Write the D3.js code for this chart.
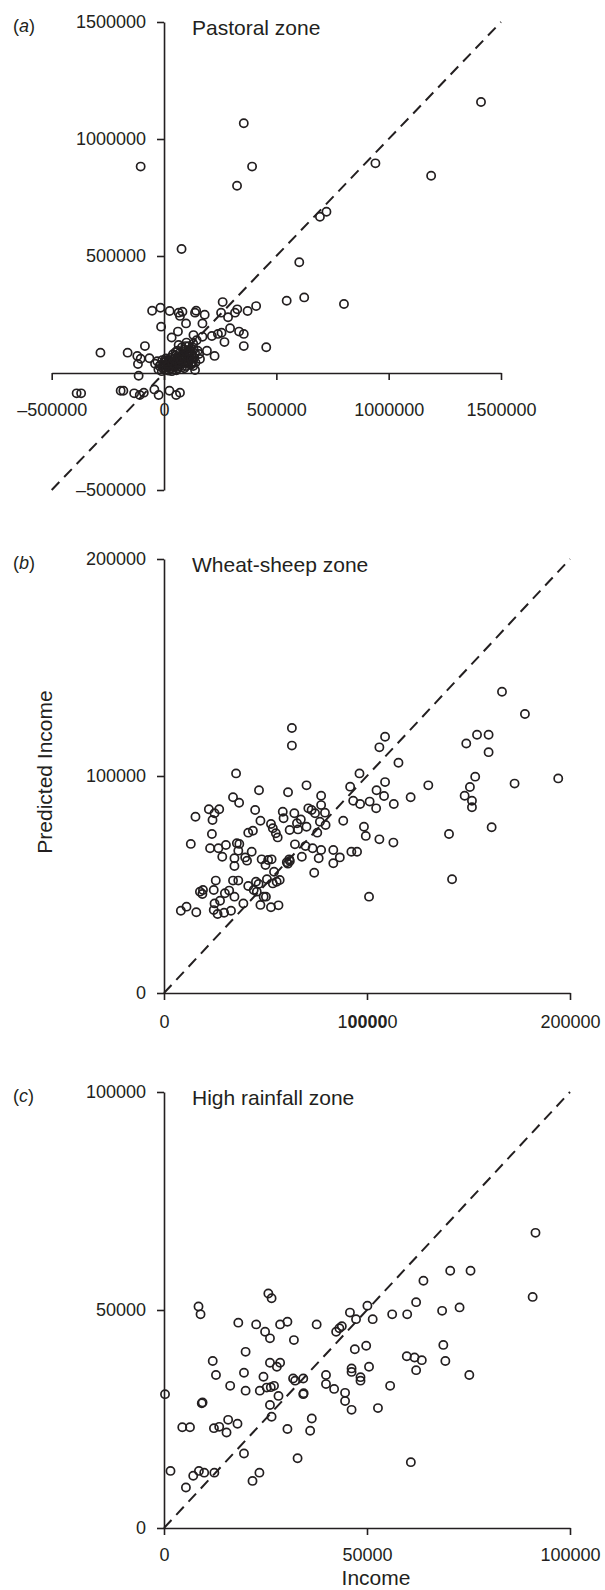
<!DOCTYPE html>
<html>
<head>
<meta charset="utf-8">
<script src="https://cdn.jsdelivr.net/npm/d3@7"></script>
<style>
    body { margin: 0; background: #fff; }
    svg { display: block; }
    text { font-family: "Liberation Sans", Arial, Helvetica, sans-serif; fill: #231f20; }
</style>
</head>
<body>
<div id="chart"></div>
<script>
const ink = "#231f20";

// (a) Pastoral zone: [income, predicted income]
const pastoralPoints = [
    [-104000, 882000], [355000, 1067000], [392000, 882000], [325000, 800000],
    [694000, 668000], [723000, 689000], [941000, 896000], [1189000, 843000],
    [1411000, 1158000], [78000, 530000], [602000, 473000], [546000, 309000],
    [624000, 323000], [801000, 295000], [455000, 110000], [410000, 286000],
    [372000, 265000], [326000, 272000], [316000, 258000], [285000, 238000],
    [261000, 303000], [254000, 258000], [294000, 191000], [334000, 177000],
    [355000, 167000], [355000, 115000], [269000, 132000], [256000, 172000],
    [240000, 167000], [213000, 158000], [225000, 73000], [181000, 249000],
    [171000, 212000], [171000, 155000], [143000, 266000], [138000, 258000],
    [98000, 212000], [71000, 244000], [65000, 258000], [82000, 262000],
    [25000, 265000], [-16000, 279000], [-53000, 266000], [-13000, 198000],
    [62000, 177000], [34000, 152000], [131000, 162000], [-85000, 115000],
    [-162000, 87000], [-283000, 87000], [-119000, 73000], [-104000, 61000],
    [-116000, 38000], [-65000, 63000], [-113000, -12000], [138000, 13000],
    [123000, 41000], [191000, 95000], [156000, 81000],
    [-389000, -87000], [-369000, -87000], [-193000, -76000], [-181000, -76000],
    [-133000, -87000], [-108000, -94000], [-90000, -84000], [-43000, -70000],
    [-24000, -94000], [24000, -76000], [54000, -94000], [71000, -84000],
    [-20000, 30000], [-5000, 20000], [5000, 35000], [15000, 25000],
    [25000, 40000], [35000, 30000], [45000, 45000], [55000, 35000],
    [65000, 50000], [75000, 40000], [85000, 60000], [95000, 45000],
    [105000, 70000], [115000, 55000], [125000, 80000], [135000, 65000],
    [10000, 55000], [30000, 65000], [50000, 75000], [70000, 85000],
    [90000, 100000], [110000, 115000], [130000, 125000], [100000, 130000],
    [80000, 110000], [60000, 95000], [40000, 80000], [20000, 45000],
    [0, 45000], [-30000, 50000], [40000, 15000], [60000, 20000],
    [80000, 25000], [100000, 30000], [120000, 35000], [140000, 45000],
    [20000, 10000], [-10000, 8000], [150000, 95000], [110000, 90000],
    [75000, 70000], [50000, 55000], [30000, 20000], [120000, 105000],
    [90000, 75000], [145000, 140000], [65000, 120000], [-40000, 40000],
    [160000, 60000], [130000, 30000],
    [-25000, 15000], [-15000, 35000], [0, 25000], [10000, 15000],
    [12000, 40000], [18000, 30000], [28000, 52000], [38000, 42000],
    [42000, 60000], [48000, 28000], [58000, 48000], [62000, 65000],
    [68000, 38000], [72000, 58000], [78000, 52000], [82000, 75000],
    [88000, 42000], [92000, 62000], [98000, 85000], [102000, 52000],
    [108000, 40000], [112000, 75000], [118000, 95000], [122000, 60000],
    [128000, 48000], [132000, 100000], [138000, 85000], [8000, 62000],
    [52000, 90000], [85000, 90000], [95000, 115000], [-8000, 55000],
    [35000, 8000], [55000, 12000], [70000, 28000], [90000, 20000]
];
const pastoralXTicks = [-500000, 0, 500000, 1000000, 1500000];
const pastoralYTicks = [-500000, 500000, 1000000, 1500000];

// (b) Wheat-sheep zone
const wheatPoints = [
    [166500, 138800], [177800, 128600], [63000, 122100], [63000, 114000],
    [108900, 118100], [106100, 113200], [115500, 106100], [148900, 115000],
    [154200, 119000], [159900, 119000], [159900, 111000], [153300, 99700],
    [150700, 94900], [148100, 90900], [172700, 96500], [194200, 98900],
    [35500, 101200], [96300, 101200], [91700, 95100], [70200, 95700],
    [46800, 93400], [61100, 92500], [77400, 90900], [108900, 97200],
    [104700, 93400], [130200, 95700], [121500, 90200], [34000, 90200],
    [37000, 87700], [151700, 88600], [151700, 85600], [161400, 76400],
    [140400, 73300], [141900, 52400], [101000, 44400], [113200, 87100],
    [104500, 85100], [108400, 90800], [101300, 88200], [96600, 87100],
    [93200, 88600], [98500, 76600], [99400, 72400], [106100, 70800],
    [113000, 69300], [88300, 79400], [92300, 65100], [95100, 65100],
    [83400, 65900], [86600, 62500], [83400, 59800], [79600, 77400],
    [77400, 86600], [79300, 83100], [74400, 82800], [76800, 78900],
    [71100, 85100], [72700, 84300], [75500, 73900], [70200, 76600],
    [66000, 75400], [67400, 80000], [64200, 82800], [65500, 78200],
    [58500, 83500], [58900, 80500], [61900, 75100], [52700, 77900],
    [53600, 75900], [55100, 73600], [56000, 71700], [47500, 79400],
    [44900, 84300], [43800, 74800], [41500, 73900], [64500, 68500],
    [69700, 67700], [73200, 66700], [77400, 65900], [76200, 62100],
    [67900, 62800], [74000, 55400], [61700, 61600], [60500, 60200],
    [62000, 60800], [61000, 59600], [51300, 61300], [50000, 59000],
    [48100, 61600], [53000, 61600], [54200, 55900], [50700, 52400],
    [53600, 50500], [55500, 51300], [57000, 52100], [43200, 65100],
    [40000, 62500], [40900, 61000], [36600, 65600], [35900, 69000],
    [37100, 68700], [30500, 68200], [26800, 66700], [22700, 66700],
    [28700, 62800], [34700, 62100], [34700, 58500], [23600, 73300],
    [23900, 79700], [24900, 82800], [22100, 84700], [27200, 84700],
    [15500, 81200], [13200, 68700], [34000, 51800], [25500, 51800],
    [32100, 47200], [34700, 44400], [30000, 46000], [24500, 47500],
    [19200, 47500], [17700, 46700], [18900, 45600], [27600, 42500],
    [24900, 41300], [24500, 38200], [26400, 36400], [29600, 37000],
    [33000, 37900], [8300, 37900], [11100, 39800], [15900, 37200],
    [39100, 41300], [47500, 40600], [52700, 39500], [56400, 40400],
    [49100, 44400], [41500, 49300], [45300, 51300], [44200, 47500],
    [46600, 50200], [36600, 51800], [50200, 44400], [45700, 46700]
];
const wheatTicks = [0, 100000, 200000];

// (c) High rainfall zone
const rainfallPoints = [
    [250, 30700], [1600, 13100], [5400, 9300], [7200, 12000],
    [8600, 13100], [9900, 12700], [12400, 12700], [4500, 23100],
    [6400, 23100], [9300, 28600], [9500, 28800], [8500, 50800],
    [9000, 49000], [12000, 38300], [12800, 35100], [12300, 22900],
    [13600, 23200], [15400, 21900], [15800, 24800], [18100, 23900],
    [16300, 32600], [18300, 47100], [20100, 40400], [19700, 35600],
    [20100, 31500], [19700, 17100], [22700, 46700], [24900, 45000],
    [26100, 43500], [25700, 53800], [26500, 52700], [28600, 46700],
    [30400, 47300], [32000, 43100], [26100, 37900], [28600, 37900],
    [27800, 37000], [24500, 34700], [23600, 31500], [25300, 32200],
    [26300, 32300], [27100, 32600], [28200, 30300], [26100, 28200],
    [26500, 25500], [31800, 34300], [32300, 33800], [34300, 34300],
    [34300, 30700], [34400, 30900], [30400, 22700], [36400, 25100],
    [36000, 22300], [32900, 16000], [21800, 10800], [23500, 12700],
    [37600, 46700], [39900, 35100], [39900, 33000], [41900, 31900],
    [44600, 31000], [44600, 29100], [46200, 27100], [42400, 45000],
    [43200, 45800], [43800, 46300], [45800, 49400], [47300, 47900],
    [50100, 51000], [51400, 47900], [47000, 41000], [49800, 41800],
    [46200, 36600], [46200, 35800], [48400, 34600], [48400, 33800],
    [50500, 37000], [52700, 27500], [55700, 32600], [56200, 49000],
    [59900, 49000], [62100, 51800], [68500, 49800], [59800, 39400],
    [61700, 39100], [63500, 38500], [62100, 36200], [68800, 42000],
    [69300, 38300], [60800, 15100], [75200, 35100], [72800, 50600],
    [90800, 53000], [91500, 67700], [70500, 59000], [75500, 59000],
    [63900, 56700]
];
const rainfallTicks = [0, 50000, 100000];

const panels = [
    {
        letter: "a", title: "Pastoral zone", points: pastoralPoints,
        domain: [-500000, 1500000], xRange: [51.7, 501], yRange: [490, 22],
        xTicks: pastoralXTicks, yTicks: pastoralYTicks, xPad: 23
    },
    {
        letter: "b", title: "Wheat-sheep zone", points: wheatPoints,
        domain: [0, 200000], xRange: [164, 570], yRange: [993, 559],
        xTicks: wheatTicks, yTicks: wheatTicks, xPad: 15
    },
    {
        letter: "c", title: "High rainfall zone", points: rainfallPoints,
        domain: [0, 100000], xRange: [164, 570], yRange: [1528, 1092],
        xTicks: rainfallTicks, yTicks: rainfallTicks, xPad: 13
    }
];

const svg = d3.select("#chart").append("svg")
    .attr("width", 605)
    .attr("height", 1590);

const fmt = v => v < 0 ? "\u2013" + Math.abs(v) : String(v);

function styleAxis(g) {
    g.attr("font-family", null).attr("font-size", null);
    g.select(".domain").attr("stroke", ink).attr("stroke-width", 1.6);
    g.selectAll(".tick line").attr("stroke", ink).attr("stroke-width", 1.6);
    g.selectAll(".tick text").attr("font-size", 18).attr("fill", ink);
}

function drawPanel(p) {
    let x = d3.scaleLinear().domain(p.domain).range(p.xRange);
    let y = d3.scaleLinear().domain(p.domain).range(p.yRange);
    let g = svg.append("g").attr("class", `panel-${p.letter}`);

    // y = x reference line
    g.append("line")
        .attr("x1", x(p.domain[0])).attr("y1", y(p.domain[0]))
        .attr("x2", x(p.domain[1])).attr("y2", y(p.domain[1]))
        .attr("stroke", ink)
        .attr("stroke-width", 2)
        .attr("stroke-dasharray", "11,7");

    g.append("g")
        .attr("transform", `translate(0, ${y(0)})`)
        .call(d3.axisBottom(x).tickValues(p.xTicks).tickFormat(fmt)
            .tickSize(7).tickSizeOuter(0).tickPadding(p.xPad))
        .call(styleAxis);

    g.append("g")
        .attr("transform", `translate(${x(0)}, 0)`)
        .call(d3.axisLeft(y).tickValues(p.yTicks).tickFormat(fmt)
            .tickSize(7).tickSizeOuter(0).tickPadding(11))
        .call(styleAxis);

    g.append("g").selectAll("circle")
        .data(p.points)
        .join("circle")
        .attr("cx", d => x(d[0]))
        .attr("cy", d => y(d[1]))
        .attr("r", 4.1)
        .attr("fill", "none")
        .attr("stroke", ink)
        .attr("stroke-width", 1.7);

    let top = y(p.domain[1]);
    g.append("text")
        .attr("x", 192)
        .attr("y", top + 13)
        .attr("font-size", 21)
        .text(p.title);

    let lab = g.append("text")
        .attr("x", 13)
        .attr("y", top + 10)
        .attr("font-size", 18);
    lab.append("tspan").text("(");
    lab.append("tspan").attr("font-style", "italic").text(p.letter);
    lab.append("tspan").text(")");
    return g;
}

let drawn = panels.map(drawPanel);

// the middle x label of panel b is printed with a heavier run of zeros
drawn[1].select("g").selectAll(".tick text")
    .filter(d => d === 100000)
    .each(function () {
        let t = d3.select(this).text("");
        t.append("tspan").text("1");
        t.append("tspan").attr("font-weight", "bold").text("0000");
        t.append("tspan").text("0");
    });

svg.append("text")
    .attr("transform", "translate(52, 772) rotate(-90)")
    .attr("text-anchor", "middle")
    .attr("font-size", 21)
    .text("Predicted Income");

svg.append("text")
    .attr("x", 376)
    .attr("y", 1585)
    .attr("text-anchor", "middle")
    .attr("font-size", 21)
    .text("Income");
</script>
</body>
</html>
